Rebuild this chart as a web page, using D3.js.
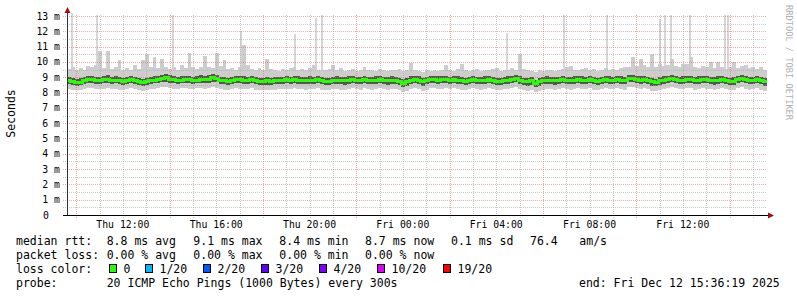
<!DOCTYPE html>
<html>
<head>
<meta charset="utf-8">
<script src="https://cdn.jsdelivr.net/npm/d3@7"></script>
<style>
body { margin: 0; background: #fff; }
svg { display: block; }
text { font-family: "DejaVu Sans Mono", monospace; fill: #000; }
</style>
</head>
<body>
<svg id="canvas" width="797" height="297"></svg>
<script>
// one value every 10 minutes, Thu 09:36:19 -> Fri 15:36:19 (ms)
let medianRtt = [
    8.78, 8.70, 8.66, 8.68, 8.80, 8.83,  8.85, 8.80, 8.78, 8.84, 8.86, 8.80,
    8.82, 8.78, 8.74, 8.80, 8.84, 8.79,  8.70, 8.66, 8.72, 8.78, 8.82, 8.86,
    8.92, 8.96, 8.88, 8.84, 8.80, 8.82,  8.86, 8.84, 8.80, 8.82, 8.86, 8.84,
    8.88, 8.96, 8.90, 8.80, 8.76, 8.74,  8.80, 8.86, 8.84, 8.82, 8.80, 8.84,
    8.78, 8.72, 8.74, 8.76, 8.72, 8.76,  8.80, 8.78, 8.84, 8.80, 8.86, 8.82,
    8.80, 8.78, 8.82, 8.80, 8.84, 8.78,  8.70, 8.74, 8.80, 8.82, 8.78, 8.76,
    8.82, 8.86, 8.80, 8.78, 8.84, 8.80,  8.78, 8.82, 8.86, 8.80, 8.76, 8.82,
    8.80, 8.72, 8.60, 8.70, 8.82, 8.84,  8.82, 8.70, 8.78, 8.84, 8.86, 8.82,
    8.84, 8.86, 8.80, 8.84, 8.82, 8.78,  8.72, 8.80, 8.84, 8.80, 8.78, 8.82,
    8.86, 8.80, 8.74, 8.72, 8.80, 8.82,  8.84, 8.90, 8.82, 8.72, 8.70, 8.76,
    8.58, 8.70, 8.78, 8.82, 8.80, 8.76,  8.80, 8.84, 8.80, 8.78, 8.82, 8.86,
    8.82, 8.80, 8.84, 8.78, 8.74, 8.80,  8.86, 8.82, 8.80, 8.84, 8.82, 8.78,
    8.90, 8.92, 8.86, 8.82, 8.86, 8.80,  8.70, 8.66, 8.76, 8.82, 8.86, 8.90,
    8.84, 8.80, 8.82, 8.86, 8.84, 8.78,  8.82, 8.86, 8.84, 8.80, 8.76, 8.82,
    8.86, 8.80, 8.72, 8.74, 8.84, 8.90,  8.84, 8.78, 8.80, 8.84, 8.78, 8.70
]
let pingHigh = [
    9.02, 8.96, 8.92, 8.94, 9.04, 9.08,  9.10, 9.04, 9.00, 9.06, 9.12, 9.02,
    9.06, 9.00, 8.98, 9.04, 9.08, 9.02,  8.96, 8.92, 8.98, 9.02, 9.06, 9.10,
    9.16, 9.20, 9.12, 9.06, 9.04, 9.08,  9.10, 9.08, 9.02, 9.06, 9.12, 9.06,
    9.12, 9.20, 9.14, 9.04, 9.00, 8.98,  9.04, 9.10, 9.08, 9.06, 9.04, 9.08,
    9.02, 8.96, 8.98, 9.00, 8.96, 9.00,  9.04, 9.02, 9.08, 9.04, 9.10, 9.06,
    9.04, 9.02, 9.06, 9.04, 9.08, 9.02,  8.94, 8.98, 9.04, 9.06, 9.02, 9.00,
    9.06, 9.10, 9.04, 9.02, 9.08, 9.04,  9.02, 9.06, 9.10, 9.04, 9.00, 9.06,
    9.04, 8.98, 8.86, 8.94, 9.06, 9.08,  9.06, 8.94, 9.02, 9.08, 9.10, 9.06,
    9.08, 9.10, 9.04, 9.08, 9.06, 9.02,  8.96, 9.04, 9.08, 9.04, 9.02, 9.06,
    9.10, 9.04, 8.98, 8.96, 9.04, 9.06,  9.08, 9.14, 9.06, 8.96, 8.94, 9.00,
    8.84, 8.94, 9.02, 9.06, 9.04, 9.00,  9.04, 9.08, 9.04, 9.02, 9.06, 9.10,
    9.06, 9.04, 9.08, 9.02, 8.98, 9.04,  9.10, 9.06, 9.04, 9.08, 9.06, 9.02,
    9.14, 9.16, 9.10, 9.06, 9.10, 9.04,  8.96, 8.92, 9.00, 9.06, 9.10, 9.14,
    9.08, 9.04, 9.06, 9.10, 9.08, 9.02,  9.06, 9.10, 9.08, 9.04, 9.00, 9.06,
    9.10, 9.04, 8.98, 9.00, 9.08, 9.14,  9.08, 9.02, 9.04, 9.08, 9.02, 8.96
]
let pingLow = [
    8.56, 8.50, 8.44, 8.48, 8.58, 8.62,  8.62, 8.58, 8.56, 8.60, 8.64, 8.56,
    8.60, 8.54, 8.52, 8.58, 8.60, 8.56,  8.48, 8.44, 8.50, 8.54, 8.60, 8.62,
    8.68, 8.70, 8.64, 8.60, 8.58, 8.60,  8.62, 8.60, 8.58, 8.60, 8.62, 8.60,
    8.64, 8.70, 8.66, 8.58, 8.54, 8.52,  8.58, 8.62, 8.60, 8.58, 8.56, 8.60,
    8.54, 8.50, 8.52, 8.52, 8.48, 8.54,  8.56, 8.54, 8.60, 8.56, 8.62, 8.58,
    8.56, 8.54, 8.58, 8.56, 8.60, 8.54,  8.48, 8.50, 8.56, 8.58, 8.54, 8.52,
    8.58, 8.62, 8.56, 8.54, 8.60, 8.56,  8.54, 8.58, 8.62, 8.56, 8.52, 8.58,
    8.56, 8.48, 8.36, 8.46, 8.58, 8.60,  8.58, 8.46, 8.54, 8.60, 8.62, 8.58,
    8.60, 8.62, 8.56, 8.60, 8.58, 8.54,  8.48, 8.56, 8.60, 8.56, 8.54, 8.58,
    8.62, 8.56, 8.50, 8.48, 8.56, 8.58,  8.60, 8.66, 8.58, 8.48, 8.46, 8.52,
    8.36, 8.46, 8.54, 8.58, 8.56, 8.52,  8.56, 8.60, 8.56, 8.54, 8.58, 8.62,
    8.58, 8.56, 8.60, 8.54, 8.50, 8.56,  8.62, 8.58, 8.56, 8.60, 8.58, 8.54,
    8.66, 8.68, 8.62, 8.58, 8.62, 8.56,  8.46, 8.42, 8.52, 8.58, 8.62, 8.66,
    8.60, 8.56, 8.58, 8.62, 8.60, 8.54,  8.58, 8.62, 8.60, 8.56, 8.52, 8.58,
    8.62, 8.56, 8.48, 8.50, 8.60, 8.66,  8.60, 8.54, 8.56, 8.60, 8.54, 8.46
]
let pingMin = [
    8.22, 8.18, 8.14, 8.20, 8.26, 8.28,  8.30, 8.24, 8.22, 8.26, 8.30, 8.22,
    8.26, 8.20, 8.18, 8.24, 8.28, 8.22,  8.16, 8.12, 8.18, 8.22, 8.26, 8.30,
    8.34, 8.36, 8.30, 8.26, 8.24, 8.28,  8.30, 8.26, 8.24, 8.28, 8.30, 8.26,
    8.30, 8.36, 8.32, 8.24, 8.20, 8.18,  8.24, 8.30, 8.26, 8.24, 8.22, 8.28,
    8.20, 8.16, 8.18, 8.20, 8.14, 8.20,  8.24, 8.22, 8.26, 8.24, 8.30, 8.24,
    8.22, 8.20, 8.26, 8.22, 8.28, 8.20,  8.14, 8.18, 8.22, 8.26, 8.20, 8.18,
    8.26, 8.30, 8.22, 8.20, 8.28, 8.22,  8.20, 8.26, 8.30, 8.22, 8.18, 8.26,
    8.22, 8.14, 8.04, 8.12, 8.26, 8.28,  8.24, 8.12, 8.20, 8.28, 8.30, 8.24,
    8.26, 8.30, 8.22, 8.28, 8.24, 8.20,  8.14, 8.22, 8.28, 8.22, 8.20, 8.26,
    8.30, 8.22, 8.16, 8.14, 8.22, 8.26,  8.28, 8.34, 8.24, 8.14, 8.12, 8.18,
    8.02, 8.12, 8.20, 8.26, 8.22, 8.18,  8.22, 8.28, 8.22, 8.20, 8.26, 8.30,
    8.26, 8.22, 8.28, 8.20, 8.16, 8.22,  8.30, 8.26, 8.22, 8.28, 8.24, 8.20,
    8.34, 8.36, 8.30, 8.24, 8.30, 8.22,  8.12, 8.08, 8.18, 8.24, 8.30, 8.34,
    8.28, 8.22, 8.26, 8.30, 8.28, 8.20,  8.24, 8.30, 8.26, 8.22, 8.18, 8.26,
    8.30, 8.22, 8.14, 8.16, 8.28, 8.34,  8.26, 8.20, 8.22, 8.28, 8.20, 8.12
]
let pingMax = [
    9.55, 9.70, 9.45, 9.60, 9.50, 9.75,  9.65, 9.80, 10.70, 9.60, 10.70, 9.55,
    9.70, 10.10, 9.50, 9.60, 9.45, 9.80,  9.55, 10.10, 10.50, 9.70, 10.30, 9.60,
    10.20, 9.70, 9.55, 9.65, 9.50, 9.80,  9.60, 10.60, 9.70, 9.55, 9.65, 10.40,
    9.70, 9.60, 10.60, 9.75, 10.10, 9.55,  9.60, 9.50, 9.70, 11.10, 9.80, 9.55,
    9.45, 9.60, 9.50, 10.20, 9.55, 9.45,  9.40, 9.55, 9.45, 9.60, 9.70, 9.50,
    9.55, 9.45, 9.60, 9.80, 9.50, 9.45,  9.50, 9.55, 9.80, 9.45, 9.60, 9.40,
    9.45, 9.55, 9.40, 9.50, 9.65, 9.45,  9.50, 9.40, 9.55, 9.45, 9.40, 9.50,
    9.45, 9.55, 9.40, 9.50, 9.95, 9.45,  9.40, 9.35, 9.45, 9.40, 9.50, 9.40,
    9.45, 9.80, 9.50, 9.40, 9.55, 9.90,  9.50, 9.40, 9.45, 9.55, 9.40, 9.50,
    9.45, 9.55, 9.60, 9.40, 9.45, 9.50,  9.60, 9.45, 10.50, 9.55, 9.45, 9.40,
    9.35, 9.45, 9.40, 9.50, 9.45, 9.40,  9.50, 9.55, 9.70, 9.75, 9.45, 9.50,
    9.55, 9.60, 9.45, 9.55, 9.40, 9.50,  9.60, 9.45, 9.55, 9.50, 9.60, 9.70,
    9.65, 10.30, 9.75, 10.20, 9.80, 9.70,  10.50, 9.70, 9.90, 9.75, 9.80, 10.20,
    9.75, 9.70, 9.90, 9.85, 10.30, 9.70,  9.60, 9.75, 9.65, 10.00, 9.60, 10.00,
    9.70, 9.55, 9.65, 10.00, 9.60, 9.75,  9.80, 9.60, 9.70, 9.55, 9.65, 9.50
]
// single tall pings: minutes after start, value (ms)
let spikeMinutes = [11, 75, 270, 445, 583, 638, 654, 1129, 1275, 1386, 1522, 1535, 1551, 1599, 1689, 1697]
let spikeValues = [13.2, 13.1, 13.1, 12.0, 11.8, 12.9, 13.1, 11.9, 13.1, 13.1, 12.8, 13.1, 13.1, 13.1, 13.1, 13.1]

let lossLabels = ['0', '1/20', '2/20', '3/20', '4/20', '10/20', '19/20']
let lossColors = ['#26ff00', '#00b8ff', '#0059ff', '#5e00ff', '#7e00ff', '#dd00ff', '#ff0000']

let rttItems = ['8.8 ms avg', '9.1 ms max', '8.4 ms min', '8.7 ms now', '0.1 ms sd', '76.4', 'am/s']
let lossItems = ['0.00 % avg', '0.00 % max', '0.00 % min', '0.00 % now']

const startTime = Date.UTC(2025, 11, 11, 9, 36, 19)
const endTime = Date.UTC(2025, 11, 12, 15, 36, 19)
const stepMs = 10 * 60 * 1000

let canvas = d3.select('#canvas')

let x = d3.scaleUtc().domain([startTime, endTime]).range([67, 767])
let y = d3.scaleLinear().domain([0, 13.07]).range([215, 15])

let rows = medianRtt.map((m, i) => ({
    t: new Date(startTime + i * stepMs),
    median: m, low: pingLow[i], high: pingHigh[i], min: pingMin[i], max: pingMax[i]
}))
rows.push(Object.assign({}, rows[rows.length - 1], { t: new Date(endTime) }))

canvas.append('rect').attr('width', 797).attr('height', 297).attr('fill', '#fff')

canvas.append('clipPath').attr('id', 'plot')
    .append('rect').attr('x', 67).attr('y', 12).attr('width', 700).attr('height', 203)

let band = (lo, hi) => d3.area()
    .curve(d3.curveStepAfter)
    .x(d => x(d.t))
    .y0(d => y(d[lo]))
    .y1(d => y(d[hi]))

let smoke = canvas.append('g').attr('clip-path', 'url(#plot)').attr('shape-rendering', 'crispEdges')

smoke.selectAll('rect.spike')
    .data(spikeMinutes)
    .enter()
    .append('rect')
    .attr('class', 'spike')
    .attr('x', m => Math.round(x(startTime + m * 60000)))
    .attr('width', 2)
    .attr('y', (m, i) => y(spikeValues[i]))
    .attr('height', (m, i) => y(9.2) - y(spikeValues[i]))
    .attr('fill', '#d6d6d6')

smoke.append('path').datum(rows).attr('d', band('min', 'max')).attr('fill', '#cdcdcd')
smoke.append('path').datum(rows).attr('d', band('low', 'high')).attr('fill', '#555555')

smoke.append('path').datum(rows)
    .attr('d', d3.line().curve(d3.curveStepAfter).x(d => x(d.t)).y(d => y(d.median)))
    .attr('fill', 'none')
    .attr('stroke', lossColors[0])
    .attr('stroke-width', 3)

// grid (drawn over the graph, like rrdtool)
let grid = canvas.append('g').attr('shape-rendering', 'crispEdges')

let minorY = d3.range(1, 27).map(v => v / 2).filter(v => v % 1 !== 0)
let majorY = d3.range(1, 14)

grid.selectAll('line.hminor')
    .data(minorY)
    .enter()
    .append('line')
    .attr('x1', 63).attr('x2', 767)
    .attr('y1', d => Math.round(y(d)) + 0.5).attr('y2', d => Math.round(y(d)) + 0.5)
    .attr('stroke', 'rgba(170,170,170,0.6)')
    .attr('stroke-dasharray', '1,1')

let hours = d3.utcHour.range(new Date(startTime), new Date(endTime))

grid.selectAll('line.vminor')
    .data(hours.filter(h => h.getUTCHours() % 4 !== 2))
    .enter()
    .append('line')
    .attr('x1', d => Math.round(x(d)) + 0.5).attr('x2', d => Math.round(x(d)) + 0.5)
    .attr('y1', 15).attr('y2', 218)
    .attr('stroke', 'rgba(170,170,170,0.6)')
    .attr('stroke-dasharray', '1,1')

grid.selectAll('line.hmajor')
    .data(majorY)
    .enter()
    .append('line')
    .attr('x1', 63).attr('x2', 767)
    .attr('y1', d => Math.round(y(d)) + 0.5).attr('y2', d => Math.round(y(d)) + 0.5)
    .attr('stroke', 'rgba(225,100,100,0.55)')
    .attr('stroke-dasharray', '1,1')

grid.selectAll('line.vmajor')
    .data(hours.filter(h => h.getUTCHours() % 4 === 2))
    .enter()
    .append('line')
    .attr('x1', d => Math.round(x(d)) + 0.5).attr('x2', d => Math.round(x(d)) + 0.5)
    .attr('y1', 15).attr('y2', 219)
    .attr('stroke', 'rgba(225,100,100,0.55)')
    .attr('stroke-dasharray', '1,1')

// axes
canvas.append('line')
    .attr('x1', 67.5).attr('x2', 67.5).attr('y1', 215).attr('y2', 11)
    .attr('stroke', '#333')
canvas.append('line')
    .attr('x1', 63).attr('x2', 769).attr('y1', 215.5).attr('y2', 215.5)
    .attr('stroke', '#000')
canvas.append('path')
    .attr('d', 'M64.5,13 L70.5,13 L67.5,7 Z')
    .attr('fill', '#a01010')
canvas.append('path')
    .attr('d', 'M768,212.5 L768,218.5 L774,215.5 Z')
    .attr('fill', '#a01010')

canvas.selectAll('text.ylab')
    .data([0].concat(majorY))
    .enter()
    .append('text')
    .attr('x', d => d === 0 ? 49 : 60)
    .attr('y', d => y(d) + 3.5)
    .attr('text-anchor', 'end')
    .style('font-size', '9.8px')
    .text(d => d === 0 ? '0' : d + ' m')

canvas.selectAll('text.xlab')
    .data(hours.filter(h => h.getUTCHours() % 4 === 0))
    .enter()
    .append('text')
    .attr('x', d => x(d))
    .attr('y', 228)
    .attr('text-anchor', 'middle')
    .style('font-size', '9.8px')
    .text(d3.utcFormat('%a %H:%M'))

canvas.append('text')
    .attr('transform', 'translate(15,113.5) rotate(-90)')
    .attr('text-anchor', 'middle')
    .style('font-size', '11.5px')
    .text('Seconds')

canvas.append('text')
    .attr('transform', 'translate(785.5,5) rotate(90)')
    .style('font-size', '8.7px')
    .style('fill', '#b0b0b0')
    .text('RRDTOOL / TOBI OETIKER')

// legend
let legend = canvas.append('g').style('font-size', '11.5px')

legend.append('text').attr('x', 16).attr('y', 245).text('median rtt:')
legend.selectAll('text.rtt')
    .data(rttItems)
    .enter()
    .append('text')
    .attr('x', (d, i) => [106.7, 193.3, 279.3, 365, 451, 530, 579.3][i])
    .attr('y', 245)
    .text(d => d)

legend.append('text').attr('x', 16).attr('y', 259).text('packet loss:')
legend.selectAll('text.loss')
    .data(lossItems)
    .enter()
    .append('text')
    .attr('x', (d, i) => [106.7, 193.3, 279.3, 365][i])
    .attr('y', 259)
    .text(d => d)

legend.append('text').attr('x', 16).attr('y', 272.5).text('loss color:')
let boxX = [109.5, 145.5, 203.5, 261.5, 319.5, 377.5, 443.5]
legend.selectAll('rect.box')
    .data(lossColors)
    .enter()
    .append('rect')
    .attr('x', (d, i) => boxX[i])
    .attr('y', 264.5)
    .attr('width', 7)
    .attr('height', 8)
    .attr('fill', d => d)
    .attr('stroke', '#000')
legend.selectAll('text.lc')
    .data(lossLabels)
    .enter()
    .append('text')
    .attr('x', (d, i) => boxX[i] + 14)
    .attr('y', 272.5)
    .text(d => d)

legend.append('text').attr('x', 16).attr('y', 286.5).text('probe:')
legend.append('text').attr('x', 106.7).attr('y', 286.5).text('20 ICMP Echo Pings (1000 Bytes) every 300s')
legend.append('text').attr('x', 579).attr('y', 286.5).text('end: Fri Dec 12 15:36:19 2025')
</script>
</body>
</html>
